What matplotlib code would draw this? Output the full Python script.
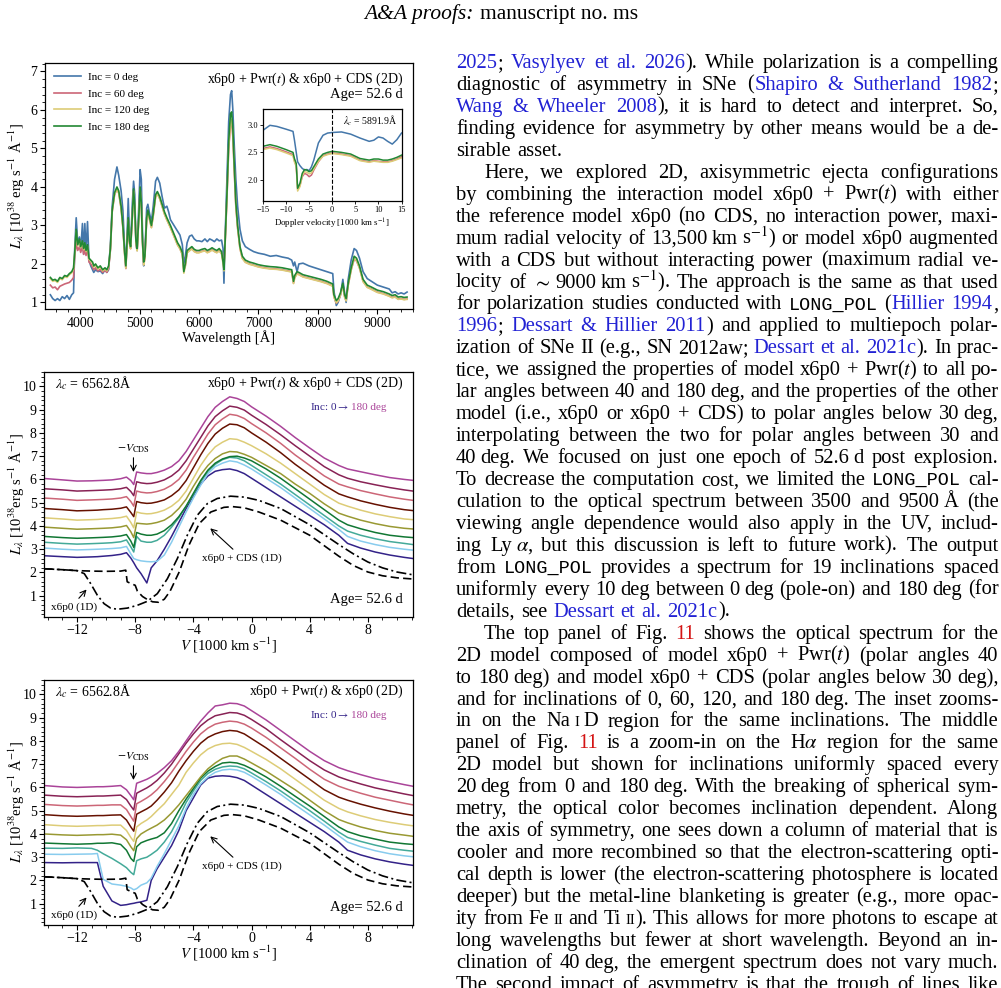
import re
import matplotlib
matplotlib.use('Agg')
import matplotlib.pyplot as plt
from matplotlib.ticker import MultipleLocator

plt.rcParams['font.family'] = ['Liberation Serif', 'DejaVu Serif']
plt.rcParams['mathtext.fontset'] = 'stix'
plt.rcParams['axes.linewidth'] = 0.9

# ---------------- top panel: optical spectra, 4 inclinations ----------------
wave = [3500, 3540, 3580, 3620, 3660, 3700, 3740, 3780, 3820, 3860, 3890, 3910, 3935, 3960, 3990,
        4010, 4040, 4060, 4080, 4100, 4125, 4150, 4180, 4210, 4230, 4260, 4300, 4340, 4380, 4420,
        4450, 4480, 4510, 4540, 4580, 4620, 4650, 4690, 4720, 4750, 4770, 4790, 4810, 4830, 4850,
        4880, 4900, 4920, 4940, 4960, 4990, 5010, 5030, 5050, 5070, 5090, 5120, 5140, 5170, 5200,
        5230, 5270, 5300, 5340, 5380, 5420, 5460, 5490, 5520, 5560, 5600, 5640, 5680, 5720, 5745,
        5770, 5800, 5840, 5880, 5920, 5960, 6000, 6050, 6100, 6140, 6180, 6220, 6260, 6300, 6340,
        6380, 6405, 6420, 6440, 6470, 6500, 6530, 6550, 6570, 6590, 6620, 6650, 6690, 6730, 6780,
        6850, 6920, 7000, 7100, 7200, 7300, 7400, 7500, 7560, 7590, 7610, 7650, 7680, 7750, 7850,
        7950, 8050, 8150, 8250, 8270, 8310, 8340, 8380, 8420, 8450, 8475, 8510, 8560, 8610, 8650,
        8700, 8760, 8830, 8900, 9000, 9100, 9200, 9250, 9300, 9350, 9400, 9450, 9500]
lum_i0 = [1.20, 1.10, 1.05, 1.10, 1.05, 1.15, 1.10, 1.18, 1.08, 1.20, 1.25, 2.40, 3.20, 2.55, 2.70,
          2.35, 3.05, 2.25, 3.05, 2.30, 3.10, 2.10, 1.95, 1.85, 1.78, 1.85, 1.80, 1.82, 1.75, 1.85,
          1.78, 1.85, 2.50, 3.50, 4.20, 4.52, 4.30, 3.90, 3.40, 2.40, 1.90, 2.70, 3.70, 2.80, 2.50,
          3.60, 4.15, 3.80, 2.50, 2.35, 3.60, 4.45, 4.20, 2.80, 1.95, 2.25, 3.45, 3.55, 3.30, 3.10,
          3.50, 4.15, 4.25, 4.10, 3.75, 3.45, 3.50, 3.35, 3.15, 3.05, 2.95, 2.85, 2.75, 2.50, 2.00,
          2.20, 2.55, 2.72, 2.75, 2.65, 2.60, 2.60, 2.58, 2.65, 2.58, 2.65, 2.62, 2.58, 2.65, 2.60,
          2.62, 2.40, 1.50, 2.70, 4.20, 5.70, 6.40, 6.50, 6.00, 5.20, 4.20, 3.50, 2.90, 2.60, 2.45,
          2.38, 2.32, 2.28, 2.25, 2.20, 2.22, 2.18, 2.15, 2.10, 1.95, 2.05, 1.80, 2.00, 2.02, 1.95,
          1.90, 1.85, 1.80, 1.75, 1.30, 0.92, 1.00, 1.20, 1.60, 1.25, 1.00, 1.60, 2.10, 2.40, 2.35,
          2.15, 1.80, 1.62, 1.55, 1.45, 1.40, 1.35, 1.25, 1.28, 1.22, 1.25, 1.22, 1.27]
lum_i60 = [1.45, 1.38, 1.40, 1.33, 1.42, 1.45, 1.48, 1.50, 1.52, 1.58, 1.65, 2.20, 2.55, 2.35, 2.45,
           2.30, 2.45, 2.25, 2.40, 2.22, 2.40, 2.05, 2.00, 1.92, 1.85, 1.90, 1.82, 1.86, 1.78, 1.84,
           1.78, 1.88, 2.35, 3.35, 3.80, 3.95, 3.85, 3.45, 2.95, 2.25, 1.88, 2.55, 3.15, 2.55, 2.40,
           3.25, 3.90, 3.45, 2.55, 2.35, 3.25, 3.95, 3.55, 2.55, 1.98, 2.15, 3.15, 3.35, 3.15, 2.95,
           3.25, 3.75, 3.83, 3.70, 3.50, 3.30, 3.15, 3.05, 2.95, 2.80, 2.65, 2.50, 2.40, 2.25, 1.85,
           1.95, 2.30, 2.35, 2.40, 2.33, 2.30, 2.30, 2.33, 2.35, 2.30, 2.33, 2.37, 2.33, 2.30, 2.35,
           2.27, 2.10, 1.95, 2.55, 3.70, 5.00, 5.60, 5.70, 5.30, 4.55, 3.50, 2.93, 2.40, 2.15, 2.05,
           2.00, 1.97, 1.93, 1.90, 1.88, 1.87, 1.85, 1.82, 1.80, 1.50, 1.65, 1.75, 1.73, 1.67, 1.63,
           1.59, 1.55, 1.50, 1.43, 1.15, 0.98, 1.03, 1.20, 1.45, 1.15, 1.05, 1.45, 1.85, 2.12, 2.08,
           1.90, 1.55, 1.40, 1.35, 1.27, 1.23, 1.17, 1.13, 1.15, 1.09, 1.10, 1.08, 1.09]
lum_i120 = [1.62, 1.55, 1.57, 1.52, 1.62, 1.59, 1.67, 1.65, 1.72, 1.77, 1.87, 2.27, 2.85, 2.47, 2.62,
            2.42, 2.57, 2.37, 2.52, 2.32, 2.47, 2.12, 2.07, 2.02, 1.92, 1.97, 1.87, 1.92, 1.82, 1.87,
            1.82, 1.92, 2.37, 3.36, 3.80, 3.94, 3.84, 3.44, 2.94, 2.24, 1.89, 2.54, 3.14, 2.54, 2.39,
            3.24, 3.89, 3.44, 2.54, 2.34, 3.24, 3.94, 3.54, 2.54, 1.97, 2.14, 3.14, 3.34, 3.14, 2.94,
            3.24, 3.74, 3.82, 3.69, 3.49, 3.29, 3.14, 3.04, 2.94, 2.79, 2.64, 2.49, 2.39, 2.24, 1.76,
            1.94, 2.29, 2.34, 2.39, 2.32, 2.29, 2.29, 2.32, 2.34, 2.29, 2.32, 2.36, 2.32, 2.29, 2.34,
            2.26, 2.00, 1.82, 2.54, 3.72, 5.05, 5.65, 5.75, 5.35, 4.58, 3.52, 2.94, 2.39, 2.14, 2.04,
            1.99, 1.96, 1.92, 1.89, 1.87, 1.86, 1.84, 1.81, 1.79, 1.49, 1.64, 1.74, 1.72, 1.66, 1.62,
            1.58, 1.54, 1.49, 1.42, 1.14, 0.99, 1.04, 1.19, 1.44, 1.14, 1.04, 1.44, 1.84, 2.14, 2.09,
            1.89, 1.54, 1.39, 1.34, 1.26, 1.22, 1.16, 1.12, 1.14, 1.08, 1.09, 1.07, 1.08]
lum_i180 = [1.65, 1.58, 1.60, 1.55, 1.65, 1.62, 1.70, 1.68, 1.75, 1.80, 1.90, 2.30, 2.90, 2.50, 2.65,
            2.45, 2.60, 2.40, 2.55, 2.35, 2.50, 2.15, 2.10, 2.05, 1.95, 2.00, 1.90, 1.95, 1.85, 1.90,
            1.85, 1.95, 2.40, 3.40, 3.85, 4.00, 3.90, 3.50, 3.00, 2.30, 1.95, 2.60, 3.20, 2.60, 2.45,
            3.30, 3.95, 3.50, 2.60, 2.40, 3.30, 4.00, 3.60, 2.60, 2.05, 2.20, 3.20, 3.40, 3.20, 3.00,
            3.30, 3.80, 3.88, 3.75, 3.55, 3.35, 3.20, 3.10, 3.00, 2.85, 2.70, 2.55, 2.45, 2.30, 1.80,
            2.00, 2.35, 2.40, 2.45, 2.38, 2.35, 2.35, 2.38, 2.40, 2.35, 2.38, 2.42, 2.38, 2.35, 2.40,
            2.32, 2.05, 1.85, 2.60, 3.80, 5.20, 5.90, 5.95, 5.50, 4.70, 3.60, 3.00, 2.45, 2.20, 2.10,
            2.05, 2.02, 1.98, 1.95, 1.93, 1.92, 1.90, 1.87, 1.85, 1.55, 1.70, 1.80, 1.78, 1.72, 1.68,
            1.64, 1.60, 1.55, 1.48, 1.20, 1.05, 1.10, 1.25, 1.50, 1.20, 1.10, 1.50, 1.90, 2.20, 2.15,
            1.95, 1.60, 1.45, 1.40, 1.32, 1.28, 1.22, 1.18, 1.20, 1.14, 1.15, 1.13, 1.14]
top_labels = ['Inc = 0 deg', 'Inc = 60 deg', 'Inc = 120 deg', 'Inc = 180 deg']
top_colors = ['#4477AA', '#CC6677', '#DDCC77', '#228833']

# ---------------- inset: Na I D region ----------------
vel_na = [-15, -13.5, -12, -10, -8.5, -8.2, -7.8, -7.5, -7, -6.5, -6, -5.5, -5, -4.5, -4,
          -3, -2, -1, 0, 2, 4, 6, 8, 9, 10, 11, 12, 13, 14, 15]
na_i0 = [2.90, 2.99, 2.97, 2.92, 2.88, 2.73, 2.50, 2.33, 2.26, 2.21, 2.18, 2.19, 2.17, 2.24, 2.36,
         2.67, 2.81, 2.85, 2.86, 2.87, 2.83, 2.76, 2.70, 2.72, 2.78, 2.76, 2.70, 2.65, 2.73, 2.85]
na_i60 = [2.57, 2.60, 2.57, 2.51, 2.46, 2.35, 2.26, 1.83, 1.90, 2.06, 2.12, 2.10, 2.06, 2.09, 2.18,
          2.33, 2.44, 2.47, 2.49, 2.47, 2.44, 2.36, 2.33, 2.35, 2.34, 2.33, 2.33, 2.35, 2.38, 2.42]
na_i120 = [2.55, 2.58, 2.55, 2.49, 2.44, 2.33, 2.24, 1.80, 1.88, 2.08, 2.15, 2.14, 2.11, 2.13, 2.20,
           2.34, 2.43, 2.46, 2.48, 2.46, 2.43, 2.35, 2.32, 2.34, 2.33, 2.32, 2.32, 2.34, 2.37, 2.40]
na_i180 = [2.61, 2.64, 2.61, 2.55, 2.50, 2.39, 2.30, 1.85, 1.94, 2.12, 2.19, 2.18, 2.15, 2.17, 2.24,
           2.38, 2.47, 2.50, 2.52, 2.50, 2.47, 2.39, 2.36, 2.38, 2.38, 2.36, 2.36, 2.38, 2.41, 2.45]

# ---------------- H-alpha panels, inclinations 0..180 every 20 deg ----------------
vel_ha = [-14.25, -13, -12, -11, -10.6, -10.2, -9.6, -9, -8.6, -8.3, -8.1, -7.9, -7.6, -7.2, -6.9,
          -6.5, -6, -5.5, -5, -4.5, -4, -3.5, -3, -2.5, -2, -1.5, -1, -0.5, 0, 1, 2, 3, 4, 5, 6,
          6.6, 7.5, 8.5, 9.5, 10.5, 11.1]
# middle panel: x6p0 + Pwr(t) & x6p0 + CDS (2D)
cds_i0 = [2.72, 2.68, 2.65, 2.67, 2.68, 2.70, 2.73, 2.78, 2.85, 2.62, 2.42, 2.20, 1.95, 1.55, 2.20,
          2.50, 3.00, 3.55, 4.15, 4.75, 5.30, 5.80, 6.15, 6.35, 6.42, 6.45, 6.38, 6.25, 6.05, 5.65,
          5.25, 4.85, 4.45, 4.05, 3.60, 3.25, 3.05, 2.88, 2.75, 2.65, 2.60]
cds_i20 = [3.05, 3.00, 2.97, 2.99, 3.00, 3.01, 3.03, 3.06, 3.12, 2.80, 2.60, 2.55, 2.50, 2.47, 2.46,
           2.48, 2.75, 3.30, 3.95, 4.60, 5.20, 5.75, 6.25, 6.55, 6.70, 6.80, 6.75, 6.62, 6.45, 6.05,
           5.65, 5.20, 4.75, 4.30, 3.85, 3.55, 3.35, 3.20, 3.08, 3.00, 2.96]
cds_i40 = [3.30, 3.25, 3.22, 3.24, 3.25, 3.26, 3.28, 3.32, 3.40, 3.10, 2.88, 3.55, 3.35, 3.30, 3.30,
           3.38, 3.60, 3.95, 4.35, 4.85, 5.35, 5.90, 6.35, 6.65, 6.85, 6.95, 6.92, 6.80, 6.60, 6.20,
           5.80, 5.35, 4.90, 4.45, 4.00, 3.78, 3.60, 3.45, 3.33, 3.25, 3.20]
cds_i60 = [3.55, 3.50, 3.47, 3.49, 3.50, 3.51, 3.53, 3.57, 3.63, 3.35, 3.08, 3.72, 3.65, 3.60, 3.60,
           3.65, 3.80, 4.05, 4.40, 4.85, 5.40, 5.95, 6.40, 6.70, 6.88, 6.98, 7.00, 6.92, 6.80, 6.45,
           6.05, 5.60, 5.15, 4.70, 4.25, 4.05, 3.88, 3.72, 3.60, 3.53, 3.50]
cds_i80 = [3.95, 3.90, 3.86, 3.88, 3.89, 3.90, 3.92, 3.96, 4.02, 3.75, 3.50, 4.12, 4.10, 4.08, 4.10,
           4.15, 4.25, 4.45, 4.75, 5.15, 5.70, 6.20, 6.60, 6.90, 7.10, 7.20, 7.18, 7.08, 6.95, 6.60,
           6.25, 5.80, 5.40, 4.95, 4.55, 4.42, 4.25, 4.10, 3.98, 3.90, 3.87]
cds_i100 = [4.35, 4.30, 4.25, 4.27, 4.28, 4.30, 4.32, 4.36, 4.42, 4.15, 3.92, 4.60, 4.55, 4.52, 4.53,
            4.58, 4.68, 4.85, 5.10, 5.50, 6.05, 6.60, 7.05, 7.40, 7.60, 7.75, 7.72, 7.60, 7.45, 7.10,
            6.70, 6.25, 5.80, 5.35, 4.98, 4.85, 4.68, 4.52, 4.40, 4.30, 4.27]
cds_i120 = [4.75, 4.70, 4.65, 4.67, 4.68, 4.70, 4.72, 4.76, 4.82, 4.58, 4.40, 5.05, 5.00, 4.97, 4.98,
            5.03, 5.12, 5.30, 5.55, 5.95, 6.50, 7.05, 7.55, 7.95, 8.20, 8.38, 8.35, 8.22, 8.00, 7.60,
            7.15, 6.65, 6.20, 5.75, 5.38, 5.25, 5.08, 4.93, 4.80, 4.70, 4.66]
cds_i140 = [5.20, 5.15, 5.10, 5.12, 5.13, 5.14, 5.16, 5.20, 5.26, 5.05, 4.85, 5.50, 5.45, 5.42, 5.43,
            5.48, 5.58, 5.75, 6.00, 6.40, 6.95, 7.45, 7.95, 8.35, 8.60, 8.80, 8.75, 8.62, 8.40, 8.00,
            7.55, 7.05, 6.60, 6.15, 5.80, 5.68, 5.52, 5.38, 5.25, 5.15, 5.10]
cds_i160 = [5.60, 5.55, 5.50, 5.52, 5.53, 5.54, 5.56, 5.60, 5.66, 5.48, 5.30, 5.90, 5.85, 5.82, 5.83,
            5.88, 5.98, 6.15, 6.40, 6.80, 7.30, 7.80, 8.30, 8.70, 8.95, 9.15, 9.10, 8.98, 8.76, 8.36,
            7.92, 7.45, 7.00, 6.55, 6.20, 6.05, 5.90, 5.77, 5.65, 5.55, 5.50]
cds_i180 = [6.04, 5.98, 5.93, 5.94, 5.95, 5.96, 5.98, 6.03, 6.10, 5.95, 5.78, 6.32, 6.28, 6.25, 6.25,
            6.30, 6.40, 6.55, 6.80, 7.20, 7.70, 8.20, 8.70, 9.10, 9.35, 9.55, 9.48, 9.35, 9.12, 8.72,
            8.28, 7.80, 7.35, 6.92, 6.60, 6.45, 6.33, 6.20, 6.08, 6.00, 5.96]
# bottom panel: x6p0 + Pwr(t) & x6p0 (2D)
x6_i0 = [2.77, 2.76, 2.77, 2.77, 2.77, 1.75, 1.12, 0.93, 0.96, 1.00, 1.02, 1.05, 1.08, 1.15, 2.00,
         2.50, 3.00, 3.50, 4.15, 5.00, 5.55, 6.10, 6.40, 6.48, 6.50, 6.48, 6.42, 6.30, 6.10, 5.70,
         5.30, 4.90, 4.50, 4.10, 3.65, 3.30, 3.10, 2.93, 2.80, 2.70, 2.65]
x6_i20 = [3.13, 3.12, 3.13, 3.14, 3.16, 2.05, 1.85, 1.80, 1.75, 1.68, 1.60, 1.65, 1.80, 1.90, 2.10,
          2.60, 3.15, 3.75, 4.35, 5.10, 5.70, 6.15, 6.45, 6.65, 6.75, 6.78, 6.75, 6.65, 6.48, 6.10,
          5.70, 5.25, 4.82, 4.38, 3.92, 3.65, 3.45, 3.28, 3.15, 3.06, 3.02]
x6_i40 = [3.39, 3.38, 3.40, 3.38, 3.30, 3.15, 2.95, 2.72, 2.55, 2.35, 2.25, 2.85, 2.93, 3.00, 3.12,
          3.30, 3.65, 4.10, 4.70, 5.35, 5.85, 6.30, 6.60, 6.78, 6.88, 6.92, 6.90, 6.80, 6.62, 6.25,
          5.85, 5.42, 5.00, 4.55, 4.08, 3.85, 3.68, 3.52, 3.38, 3.30, 3.26]
x6_i60 = [3.61, 3.58, 3.56, 3.58, 3.60, 3.60, 3.62, 3.55, 3.30, 2.95, 2.82, 3.45, 3.62, 3.72, 3.78,
          3.85, 4.05, 4.45, 5.00, 5.50, 5.95, 6.40, 6.70, 6.90, 7.05, 7.08, 7.05, 6.95, 6.80, 6.45,
          6.05, 5.62, 5.20, 4.75, 4.30, 4.10, 3.92, 3.78, 3.65, 3.58, 3.55]
x6_i80 = [4.00, 3.96, 3.94, 3.96, 3.97, 3.97, 3.99, 3.95, 3.75, 3.45, 3.28, 3.80, 4.00, 4.15, 4.25,
          4.38, 4.60, 4.90, 5.25, 5.65, 6.05, 6.45, 6.80, 7.05, 7.25, 7.35, 7.35, 7.22, 7.05, 6.70,
          6.30, 5.90, 5.45, 5.00, 4.62, 4.48, 4.30, 4.15, 4.03, 3.95, 3.90]
x6_i100 = [4.40, 4.35, 4.33, 4.35, 4.36, 4.36, 4.38, 4.38, 4.15, 3.85, 3.68, 4.30, 4.45, 4.60, 4.75,
           5.00, 5.30, 5.70, 6.10, 6.65, 7.05, 7.40, 7.65, 7.80, 7.88, 7.90, 7.85, 7.72, 7.55, 7.20,
           6.80, 6.35, 5.90, 5.45, 5.10, 4.95, 4.78, 4.62, 4.50, 4.40, 4.35]
x6_i120 = [4.83, 4.78, 4.76, 4.78, 4.79, 4.79, 4.81, 4.82, 4.60, 4.30, 4.12, 4.85, 4.95, 5.08, 5.20,
           5.45, 5.80, 6.20, 6.70, 7.15, 7.55, 7.90, 8.15, 8.30, 8.40, 8.45, 8.42, 8.30, 8.10, 7.70,
           7.25, 6.80, 6.35, 5.90, 5.58, 5.45, 5.28, 5.12, 4.98, 4.86, 4.80]
x6_i140 = [5.27, 5.22, 5.20, 5.22, 5.23, 5.23, 5.25, 5.25, 5.05, 4.75, 4.55, 5.30, 5.40, 5.55, 5.68,
           5.90, 6.25, 6.65, 7.10, 7.55, 7.95, 8.30, 8.55, 8.72, 8.80, 8.85, 8.82, 8.72, 8.55, 8.15,
           7.70, 7.25, 6.78, 6.35, 6.05, 5.92, 5.75, 5.58, 5.45, 5.32, 5.25]
x6_i160 = [5.67, 5.62, 5.60, 5.62, 5.63, 5.63, 5.65, 5.67, 5.48, 5.20, 5.03, 5.75, 5.85, 5.98, 6.10,
           6.30, 6.62, 7.00, 7.45, 7.90, 8.30, 8.65, 8.90, 9.08, 9.15, 9.22, 9.20, 9.10, 8.92, 8.52,
           8.05, 7.60, 7.15, 6.75, 6.45, 6.32, 6.15, 5.98, 5.85, 5.72, 5.65]
x6_i180 = [6.08, 6.02, 6.00, 6.02, 6.03, 6.03, 6.05, 6.08, 5.90, 5.65, 5.47, 6.18, 6.25, 6.35, 6.45,
           6.60, 6.85, 7.15, 7.55, 8.00, 8.45, 8.85, 9.20, 9.50, 9.55, 9.62, 9.60, 9.50, 9.30, 8.90,
           8.45, 8.00, 7.55, 7.15, 6.85, 6.72, 6.55, 6.38, 6.25, 6.12, 6.05]
inc_colors = ['#332288', '#88CCEE', '#44AA99', '#117733', '#999933',
              '#DDCC77', '#661100', '#CC6677', '#882255', '#AA4499']

# 1D reference models (same in both H-alpha panels)
vel_x6p0 = [-14.25, -13, -12, -11.5, -11.06, -10.6, -10.14, -9.69, -9.23, -8.54, -7.85, -7.17,
            -6.48, -5.79, -5.1, -4.42, -3.73, -3.04, -2.36, -1.44, -0.5, 0.5, 2, 4, 6, 7, 8, 9, 10, 11.1]
lum_x6p0 = [2.16, 2.12, 2.08, 1.95, 1.52, 1.02, 0.66, 0.47, 0.42, 0.47, 0.59, 0.76,
            1.09, 1.73, 2.60, 3.60, 4.46, 4.96, 5.18, 5.28, 5.24, 5.10, 4.75, 4.05, 3.20, 2.80,
            2.45, 2.20, 2.02, 1.90]
vel_x6cds = [-14.25, -13, -12, -11, -10, -9, -8.65, -8.55, -8.2, -8.0, -7.85, -7.5, -7.17, -6.8,
             -6.4, -6.0, -5.6, -4.97, -4.3, -3.6, -2.8, -1.9, -1.3, -0.5, 0.5, 2, 4, 6, 7, 8, 9, 10, 11.1]
lum_x6cds = [2.16, 2.12, 2.08, 2.06, 2.05, 2.06, 2.10, 1.60, 1.50, 1.45, 1.20, 0.97, 0.84, 0.74,
             0.72, 0.85, 1.20, 2.03, 3.18, 4.10, 4.60, 4.80, 4.83, 4.78, 4.60, 4.25, 3.60, 2.70,
             2.30, 2.02, 1.86, 1.77, 1.72]

# ---------------- right column text ('>' = indent, '|' = last line of paragraph) ----------------
body_lines = [
    "{b:2025}; {b:Vasylyev et al. 2026}). While polarization is a compelling",
    "diagnostic of asymmetry in SNe ({b:Shapiro & Sutherland 1982};",
    "{b:Wang & Wheeler 2008}), it is hard to detect and interpret. So,",
    "finding evidence for asymmetry by other means would be a de-",
    "sirable asset.|",
    ">Here, we explored 2D, axisymmetric ejecta configurations",
    "by combining the interaction model x6p0 + Pwr($t$) with either",
    "the reference model x6p0 (no CDS, no interaction power, maxi-",
    "mum radial velocity of 13,500~km~s$^{-1}$) or model x6p0 augmented",
    "with a CDS but without interacting power (maximum radial ve-",
    "locity of $\\sim$~9000~km~s$^{-1}$). The approach is the same as that used",
    "for polarization studies conducted with {t:LONG_POL} ({b:Hillier 1994},",
    "{b:1996}; {b:Dessart & Hillier 2011}) and applied to multiepoch polar-",
    "ization of SNe II (e.g., SN 2012aw; {b:Dessart et al. 2021c}). In prac-",
    "tice, we assigned the properties of model x6p0 + Pwr($t$) to all po-",
    "lar angles between 40 and 180~deg, and the properties of the other",
    "model (i.e., x6p0 or x6p0 + CDS) to polar angles below 30~deg,",
    "interpolating between the two for polar angles between 30 and",
    "40~deg. We focused on just one epoch of 52.6~d post explosion.",
    "To decrease the computation cost, we limited the {t:LONG_POL} cal-",
    "culation to the optical spectrum between 3500 and 9500~Å (the",
    "viewing angle dependence would also apply in the UV, includ-",
    "ing Ly~$\\alpha$, but this discussion is left to future work). The output",
    "from {t:LONG_POL} provides a spectrum for 19 inclinations spaced",
    "uniformly every 10~deg between 0~deg (pole-on) and 180~deg (for",
    "details, see {b:Dessart et al. 2021c}).|",
    ">The top panel of Fig. {r:11} shows the optical spectrum for the",
    "2D model composed of model x6p0 + Pwr($t$) (polar angles 40",
    "to 180~deg) and model x6p0 + CDS (polar angles below 30~deg),",
    "and for inclinations of 0, 60, 120, and 180~deg. The inset zooms-",
    "in on the Na~{s:I}~D region for the same inclinations. The middle",
    "panel of Fig. {r:11} is a zoom-in on the H$\\alpha$ region for the same",
    "2D model but shown for inclinations uniformly spaced every",
    "20~deg from 0 and 180~deg. With the breaking of spherical sym-",
    "metry, the optical color becomes inclination dependent. Along",
    "the axis of symmetry, one sees down a column of material that is",
    "cooler and more recombined so that the electron-scattering opti-",
    "cal depth is lower (the electron-scattering photosphere is located",
    "deeper) but the metal-line blanketing is greater (e.g., more opac-",
    "ity from Fe~{s:II} and Ti~{s:II}). This allows for more photons to escape at",
    "long wavelengths but fewer at short wavelength. Beyond an in-",
    "clination of 40~deg, the emergent spectrum does not vary much.",
    "The second impact of asymmetry is that the trough of lines like",
]

W, H = 1001, 988
fig = plt.figure(figsize=(W / 100, H / 100), dpi=100)
rend = fig.canvas.get_renderer()


def fx(x):
    return x / W


def fy(y):
    return 1 - y / H


SERIF = ['Liberation Serif', 'DejaVu Serif']
BODY_FS = 14.8
LINK = '#2222d4'
FIGREF = '#d41414'
em = BODY_FS * 100 / 72


def seg_props(st, fs=None):
    fs = BODY_FS if fs is None else fs
    p = dict(fontsize=fs, color='black', family=SERIF)
    if st == 'b':
        p['color'] = LINK
    elif st == 'r':
        p['color'] = FIGREF
    elif st == 't':
        p.update(family=['Liberation Mono'], fontsize=fs * 0.9)
    elif st == 's':
        p['fontsize'] = fs * 0.72
    return p


_wcache = {}


def text_w(s, st, fs=None):
    key = (s, st, fs)
    if key not in _wcache:
        t = fig.text(0, 0, s, **seg_props(st, fs))
        _wcache[key] = t.get_window_extent(rend).width
        t.remove()
    return _wcache[key]


def parse_words(line):
    parts = re.split(r'\{([brts]):([^}]*)\}', line)
    segs = []
    for i in range(0, len(parts), 3):
        if parts[i]:
            segs.append((parts[i], 'n'))
        if i + 2 < len(parts):
            segs.append((parts[i + 2], parts[i + 1]))
    words, cur = [], []
    for txt, st in segs:
        for ch in txt:
            if ch == ' ':
                if cur:
                    words.append(cur)
                    cur = []
            elif ch == '~':
                cur.append(('gap', ''))
            elif cur and cur[-1][0] == st:
                cur[-1] = (st, cur[-1][1] + ch)
            else:
                cur.append((st, ch))
    if cur:
        words.append(cur)
    return words


LEFT, RIGHT, INDENT = 456, 999, 28
BASE0, LEAD = 68, 21.95
for i, raw in enumerate(body_lines):
    indent = raw.startswith('>')
    last = raw.endswith('|')
    words = parse_words(raw.strip('>|'))
    x0 = LEFT + (INDENT if indent else 0)
    fs = BODY_FS
    # shrink a too-long line slightly so that it still fits the column
    while True:
        e = fs * 100 / 72
        gap = 0.17 * e
        widths = [sum(gap if k == 'gap' else text_w(s, k, fs) + 0.6 for k, s in w) for w in words]
        if last or RIGHT - x0 - sum(widths) >= 0.18 * e * (len(words) - 1) or fs < BODY_FS * 0.9:
            break
        fs -= 0.2
    sp = 0.27 * e if last else (RIGHT - x0 - sum(widths)) / (len(words) - 1)
    yb = BASE0 + LEAD * i
    x = x0
    for w, wd in zip(words, widths):
        xx = x
        for k, s in w:
            if k == 'gap':
                xx += gap
                continue
            fig.text(fx(xx), fy(yb), s, ha='left', va='baseline', **seg_props(k, fs))
            xx += text_w(s, k, fs) + 0.6
        x += wd + sp

# running head
HEAD_FS = 15.5
t = fig.text(0, 0, 'A&A proofs:', fontsize=HEAD_FS, style='italic', family=SERIF)
w1 = t.get_window_extent(rend).width
t.remove()
w2 = text_w('manuscript no. ms', 'n', HEAD_FS)
hsp = 0.27 * HEAD_FS * 100 / 72
hx = 501 - (w1 + hsp + w2) / 2
fig.text(fx(hx), fy(19), 'A&A proofs:', fontsize=HEAD_FS, style='italic', family=SERIF,
         ha='left', va='baseline')
fig.text(fx(hx + w1 + hsp), fy(19), 'manuscript no. ms', ha='left', va='baseline',
         **seg_props('n', HEAD_FS))


def style_axes(ax, xminor, yminor, size=10):
    ax.xaxis.set_minor_locator(MultipleLocator(xminor))
    ax.yaxis.set_minor_locator(MultipleLocator(yminor))
    ax.tick_params(which='both', direction='out', top=False, right=False, labelsize=size, pad=2)
    ax.tick_params(which='major', length=3.5, width=0.8)
    ax.tick_params(which='minor', length=2, width=0.6)


PLOT_FS = 10.5
YLAB = r'$L_{\lambda}$ [10$^{38}$ erg s$^{-1}$ Å$^{-1}$]'

# ---------------- top panel ----------------
ax1 = fig.add_axes([fx(45), fy(309), 368 / W, 246 / H])
for lum, c, lab in zip([lum_i0, lum_i60, lum_i120, lum_i180], top_colors, top_labels):
    ax1.plot(wave, lum, color=c, lw=1.2, label=lab)
ax1.set_xlim(3410, 9600)
ax1.set_ylim(0.83, 7.22)
ax1.set_xticks(range(4000, 9001, 1000))
ax1.set_yticks(range(1, 8))
style_axes(ax1, 200, 0.2)
ax1.legend(loc='upper left', frameon=False, fontsize=8, handlelength=2.4,
           labelspacing=0.6, borderaxespad=0.45, handletextpad=0.6)
ax1.text(0.973, 0.935, r'x6p0 + Pwr($t$) & x6p0 + CDS (2D)', transform=ax1.transAxes,
         ha='right', va='center', fontsize=10)
ax1.text(0.973, 0.87, 'Age= 52.6 d', transform=ax1.transAxes, ha='right', va='center',
         fontsize=PLOT_FS)
fig.text(fx(17), fy(186), YLAB, rotation=90, ha='center', va='center', fontsize=PLOT_FS)
fig.text(fx(229), fy(338), 'Wavelength [Å]', ha='center', va='center', fontsize=PLOT_FS)

# inset
axi = fig.add_axes([fx(263), fy(201), 138.5 / W, 91.7 / H])
for lum, c in zip([na_i0, na_i60, na_i120, na_i180], top_colors):
    axi.plot(vel_na, lum, color=c, lw=1.1)
axi.axvline(0, color='black', ls='--', lw=0.8)
axi.set_xlim(-15, 15)
axi.set_ylim(1.62, 3.28)
axi.set_xticks([-15, -10, -5, 0, 5, 10, 15])
axi.set_yticks([2.0, 2.5, 3.0])
axi.tick_params(direction='out', length=2, width=0.6, labelsize=6, pad=1.5)
axi.set_xlabel('Doppler velocity [1000 km s$^{-1}$]', fontsize=6.5, labelpad=2)
axi.text(0.97, 0.87, r'$\lambda_c$ = 5891.9Å', transform=axi.transAxes, ha='right',
         va='center', fontsize=7)


def inc_label(ax, ypos):
    t2 = ax.text(0.929, ypos, '180 deg', color=inc_colors[-1], fontsize=8, ha='right',
                 va='baseline', transform=ax.transAxes)
    bb = t2.get_window_extent(rend)
    xl = ax.transAxes.inverted().transform((bb.x0 - 2.5, bb.y0))[0]
    ax.text(xl, ypos, r'Inc: 0$\rightarrow$', color=inc_colors[0], fontsize=8, ha='right',
            va='baseline', transform=ax.transAxes)


def ha_panel(rect, curves, title):
    ax = fig.add_axes(rect)
    for lum, c in zip(curves, inc_colors):
        ax.plot(vel_ha, lum, color=c, lw=1.1)
    ax.plot(vel_x6cds, lum_x6cds, color='black', lw=1.2, ls=(0, (5, 2.5)))
    ax.plot(vel_x6p0, lum_x6p0, color='black', lw=1.2, ls=(0, (6, 2, 1.2, 2)))
    ax.set_xlim(-14.25, 11.1)
    ax.set_ylim(0.1, 10.63)
    ax.set_xticks([-12, -8, -4, 0, 4, 8])
    ax.set_yticks(range(1, 11))
    style_axes(ax, 1, 0.2)
    ax.text(0.029, 0.952, r'$\lambda_c$ = 6562.8Å', transform=ax.transAxes, ha='left',
            va='center', fontsize=10)
    ax.text(0.973, 0.952, title, transform=ax.transAxes, ha='right', va='center', fontsize=10)
    inc_label(ax, 0.845)
    ax.text(0.973, 0.07, 'Age= 52.6 d', transform=ax.transAxes, ha='right', va='center',
            fontsize=PLOT_FS)
    ax.annotate('', xy=(-8.12, 6.2), xytext=(-8.12, 7.05),
                arrowprops=dict(arrowstyle='->', lw=0.8, color='black'))
    ax.text(-8.1, 7.3, r'$-V_{\rm CDS}$', ha='center', va='center', fontsize=8.5)
    ax.annotate('', xy=(-2.98, 3.98), xytext=(-1.14, 2.92),
                arrowprops=dict(arrowstyle='->', lw=0.8, color='black'))
    ax.text(-0.64, 2.62, 'x6p0 + CDS (1D)', ha='center', va='center', fontsize=8)
    ax.annotate('', xy=(-11.22, 1.36), xytext=(-12.0, 0.8),
                arrowprops=dict(arrowstyle='->', lw=0.8, color='black'))
    ax.text(-12.2, 0.52, 'x6p0 (1D)', ha='center', va='center', fontsize=8)
    return ax


HA_YLAB = r'$L_{\lambda}$ [10$^{38}$erg s$^{-1}$ Å$^{-1}$]'
VLAB = r'$V$ [1000 km s$^{-1}$]'

ha_panel([fx(44.3), fy(616.7), 368.7 / W, 245 / H],
         [cds_i0, cds_i20, cds_i40, cds_i60, cds_i80, cds_i100, cds_i120, cds_i140, cds_i160, cds_i180],
         r'x6p0 + Pwr($t$) & x6p0 + CDS (2D)')
fig.text(fx(17), fy(494), HA_YLAB, rotation=90, ha='center', va='center', fontsize=PLOT_FS)
fig.text(fx(229), fy(645), VLAB, ha='center', va='center', fontsize=PLOT_FS)

ha_panel([fx(44.3), fy(924.7), 368.7 / W, 245 / H],
         [x6_i0, x6_i20, x6_i40, x6_i60, x6_i80, x6_i100, x6_i120, x6_i140, x6_i160, x6_i180],
         r'x6p0 + Pwr($t$) & x6p0 (2D)')
fig.text(fx(17), fy(802), HA_YLAB, rotation=90, ha='center', va='center', fontsize=PLOT_FS)
fig.text(fx(229), fy(953), VLAB, ha='center', va='center', fontsize=PLOT_FS)

fig.savefig('out.png', dpi=100)
